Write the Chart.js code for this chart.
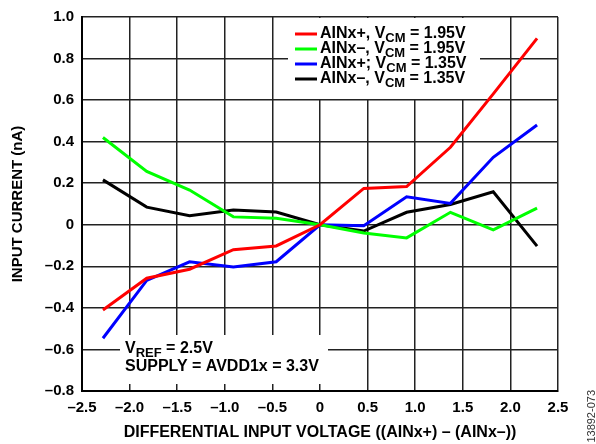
<!DOCTYPE html>
<html>
<head>
<meta charset="utf-8">
<script src="https://cdn.jsdelivr.net/npm/chart.js@4"></script>
<style>
  html, body { margin: 0; padding: 0; background: #fff; }
  #wrap { width: 596px; height: 444px; }
</style>
</head>
<body>
<div id="wrap"><canvas id="myChart" width="596" height="444"></canvas></div>
<script>
// data
const xVolts = [-2.28, -1.82, -1.37, -0.91, -0.46, 0, 0.46, 0.91, 1.37, 1.82, 2.28];
const ainPos195 = [-0.41, -0.257, -0.214, -0.12, -0.102, 0, 0.175, 0.184, 0.373, 0.63, 0.897];
const ainNeg195 = [0.42, 0.257, 0.167, 0.038, 0.031, 0, -0.04, -0.063, 0.06, -0.024, 0.08];
const ainPos135 = [-0.546, -0.268, -0.178, -0.203, -0.178, 0, -0.005, 0.135, 0.103, 0.325, 0.48];
const ainNeg135 = [0.216, 0.085, 0.043, 0.071, 0.061, 0, -0.03, 0.06, 0.098, 0.159, -0.103];
const seriesColors = ['#ff0000', '#00ff00', '#0000ff', '#000000'];
// legend text: [before subscript, subscript, after]
const legendLabels = [
  ['AINx+, V', 'CM', ' = 1.95V'],
  ['AINx\u2013, V', 'CM', ' = 1.95V'],
  ['AINx+; V', 'CM', ' = 1.35V'],
  ['AINx\u2013, V', 'CM', ' = 1.35V']
];
const noteLines = [['V', 'REF', ' = 2.5V'], ['SUPPLY = AVDD1x = 3.3V', '', '']];

const FONT = '"Liberation Sans", Arial, sans-serif';
const fmt = v => {
  const r = Math.round(v * 10) / 10;
  if (r === 0) return '0';
  return r.toFixed(1).replace('-', '\u2013');
};

const toPts = ys => ys.map((y, i) => ({ x: xVolts[i], y: y }));

function drawSub(ctx, parts, x, y, size) {
  ctx.font = 'bold ' + size + 'px ' + FONT;
  ctx.fillText(parts[0], x, y);
  x += ctx.measureText(parts[0]).width;
  if (parts[1]) {
    ctx.font = 'bold ' + (size - 3) + 'px ' + FONT;
    ctx.fillText(parts[1], x, y + 4);
    x += ctx.measureText(parts[1]).width;
  }
  ctx.font = 'bold ' + size + 'px ' + FONT;
  ctx.fillText(parts[2], x, y);
}

const boxes = {
  id: 'boxes',
  beforeDatasetsDraw(chart) {
    const ctx = chart.ctx;
    ctx.save();
    ctx.fillStyle = '#fff';
    ctx.fillRect(288, 18, 192, 81);
    ctx.fillRect(120, 335, 208, 49);
    ctx.restore();
  },
  afterDatasetsDraw(chart) {
    const ctx = chart.ctx;
    ctx.save();
    ctx.textBaseline = 'middle';
    ctx.fillStyle = '#000';
    legendLabels.forEach((parts, i) => {
      const y = 34 + i * 15;
      ctx.strokeStyle = seriesColors[i];
      ctx.lineWidth = 3;
      ctx.beginPath();
      ctx.moveTo(295, y);
      ctx.lineTo(317, y);
      ctx.stroke();
      drawSub(ctx, parts, 320, y, 16);
    });
    noteLines.forEach((parts, i) => {
      drawSub(ctx, parts, 125, 349 + i * 18, 16);
    });
    // figure id at right edge, runs off the bottom
    ctx.translate(592, 390);
    ctx.rotate(-Math.PI / 2);
    ctx.textAlign = 'right';
    ctx.font = '11px ' + FONT;
    ctx.fillStyle = '#333';
    ctx.fillText('13892-073', 0, 0);
    ctx.restore();
  }
};

const tickFont = { family: FONT, size: 15, weight: 'bold' };

const ctx = document.getElementById('myChart').getContext('2d');
new Chart(ctx, {
  type: 'line',
  data: {
    datasets: [ainPos195, ainNeg195, ainPos135, ainNeg135].map((ys, i) => ({
      label: legendLabels[i].join(''),
      data: toPts(ys),
      borderColor: seriesColors[i],
      borderWidth: 3,
      pointRadius: 0,
      tension: 0,
      fill: false
    }))
  },
  options: {
    responsive: false,
    animation: false,
    layout: { padding: { top: 11, right: 38, left: 0, bottom: 0 } },
    plugins: { legend: { display: false }, tooltip: { enabled: false } },
    scales: {
      x: {
        type: 'linear',
        min: -2.5,
        max: 2.5,
        afterFit: s => { s.height = 53; },
        ticks: { stepSize: 0.5, padding: 8, color: '#000', font: tickFont, callback: fmt, maxRotation: 0 },
        grid: { color: '#222', lineWidth: 1.5, drawTicks: false },
        border: { color: '#000', width: 2 },
        title: { display: true, text: 'DIFFERENTIAL INPUT VOLTAGE ((AINx+) \u2013 (AINx\u2013))', color: '#000', font: { family: FONT, size: 16, weight: 'bold' }, padding: { top: 4, bottom: 2 } }
      },
      y: {
        min: -0.8,
        max: 1.0,
        afterFit: s => { s.width = 82; },
        ticks: { stepSize: 0.2, padding: 8, color: '#000', font: tickFont, callback: fmt },
        grid: { color: '#222', lineWidth: 1.5, drawTicks: false },
        border: { color: '#000', width: 2 },
        title: { display: true, text: 'INPUT CURRENT (nA)', color: '#000', font: { family: FONT, size: 15, weight: 'bold' }, padding: { top: 9, bottom: 0 } }
      }
    }
  },
  plugins: [boxes]
});
</script>
</body>
</html>
